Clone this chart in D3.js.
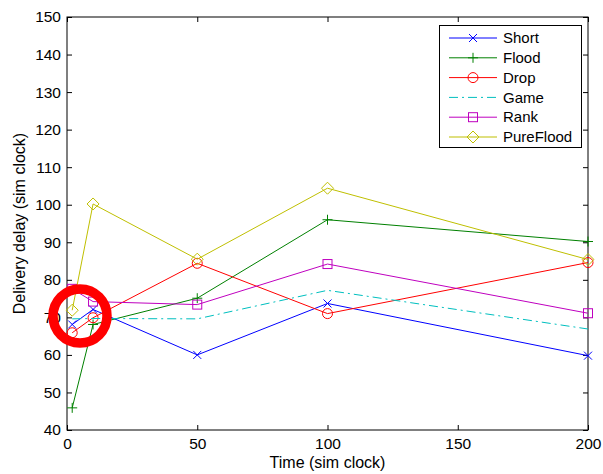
<!DOCTYPE html>
<html>
<head>
<meta charset="utf-8">
<script src="https://cdn.jsdelivr.net/npm/d3@7"></script>
<style>
  body { margin: 0; background: #fff; }
  svg { display: block; font-family: "Liberation Sans", Arial, Helvetica, sans-serif; }
</style>
</head>
<body>
<svg id="chart" width="603" height="474"></svg>
<script>
// Sampling times (sim clock)
const times = [2, 10, 50, 100, 200];

// Delivery delay per routing scheme
const shortDelay     = [68.1, 72.1, 60.0, 73.7, 59.8];
const floodDelay     = [45.9, 68.1, 75.1, 96.0, 90.2];
const dropDelay      = [65.9, 69.9, 84.4, 71.0, 84.6];
const gameDelay      = [69.6, 69.7, 69.6, 77.2, 66.9];
const rankDelay      = [77.6, 74.2, 73.4, 84.2, 71.1];
const pureFloodDelay = [71.9, 100.2, 85.5, 104.4, 85.4];

const seriesNames  = ["Short", "Flood", "Drop", "Game", "Rank", "PureFlood"];
const seriesValues = [shortDelay, floodDelay, dropDelay, gameDelay, rankDelay, pureFloodDelay];
const seriesColors = ["#0000ff", "#008000", "#ff0000", "#00bfbf", "#bf00bf", "#bfbf00"];
const seriesMarkers = ["x", "plus", "circle", "none", "square", "diamond"];

const xTicks = [0, 50, 100, 150, 200];
const yTicks = [40, 50, 60, 70, 80, 90, 100, 110, 120, 130, 140, 150];

const plot = { left: 67, right: 588, top: 17, bottom: 430 };

const svg = d3.select("#chart");
const x = d3.scaleLinear().domain([0, 200]).range([plot.left, plot.right]);
const y = d3.scaleLinear().domain([40, 150]).range([plot.bottom, plot.top]);

// Axes with inward ticks on all four sides
const tickLen = 5;
svg.append("g").attr("transform", `translate(0,${plot.bottom})`)
  .call(d3.axisBottom(x).tickValues(xTicks).tickSizeInner(-tickLen).tickSizeOuter(0).tickPadding(8))
  .call(g => g.select(".domain").remove());
svg.append("g").attr("transform", `translate(0,${plot.top})`)
  .call(d3.axisTop(x).tickValues(xTicks).tickSizeInner(-tickLen).tickSizeOuter(0).tickFormat(""))
  .call(g => g.select(".domain").remove());
svg.append("g").attr("transform", `translate(${plot.left},0)`)
  .call(d3.axisLeft(y).tickValues(yTicks).tickSizeInner(-tickLen).tickSizeOuter(0).tickPadding(6))
  .call(g => g.select(".domain").remove());
svg.append("g").attr("transform", `translate(${plot.right},0)`)
  .call(d3.axisRight(y).tickValues(yTicks).tickSizeInner(-tickLen).tickSizeOuter(0).tickFormat(""))
  .call(g => g.select(".domain").remove());

svg.selectAll(".tick line").attr("stroke", "#000");
svg.selectAll(".tick text").attr("font-size", 15.5).attr("fill", "#000")
  .attr("font-family", "'Liberation Sans', Arial, sans-serif");

// Plot box
svg.append("rect")
  .attr("x", plot.left).attr("y", plot.top)
  .attr("width", plot.right - plot.left).attr("height", plot.bottom - plot.top)
  .attr("fill", "none").attr("stroke", "#000").attr("stroke-width", 1);

// Axis titles
svg.append("text").attr("x", (plot.left + plot.right) / 2).attr("y", 468)
  .attr("text-anchor", "middle").attr("font-size", 16).text("Time (sim clock)");
svg.append("text")
  .attr("transform", `translate(25,${(plot.top + plot.bottom) / 2}) rotate(-90)`)
  .attr("text-anchor", "middle").attr("font-size", 16).text("Delivery delay (sim clock)");

function drawMarker(g, type, cx, cy, color) {
  const s = 4;
  if (type === "x") {
    g.append("path").attr("d", `M${cx - s},${cy - s}L${cx + s},${cy + s}M${cx - s},${cy + s}L${cx + s},${cy - s}`)
      .attr("stroke", color).attr("fill", "none");
  } else if (type === "plus") {
    g.append("path").attr("d", `M${cx - 5},${cy}L${cx + 5},${cy}M${cx},${cy - 5}L${cx},${cy + 5}`)
      .attr("stroke", color).attr("fill", "none");
  } else if (type === "circle") {
    g.append("circle").attr("cx", cx).attr("cy", cy).attr("r", 5)
      .attr("stroke", color).attr("fill", "none");
  } else if (type === "square") {
    g.append("rect").attr("x", cx - 4.5).attr("y", cy - 4.5).attr("width", 9).attr("height", 9)
      .attr("stroke", color).attr("fill", "none");
  } else if (type === "diamond") {
    g.append("path").attr("d", `M${cx},${cy - 6}L${cx + 6},${cy}L${cx},${cy + 6}L${cx - 6},${cy}Z`)
      .attr("stroke", color).attr("fill", "none");
  }
}

const line = d3.line().x(d => x(d[0])).y(d => y(d[1]));

seriesValues.forEach((vals, i) => {
  const pts = times.map((t, j) => [t, vals[j]]);
  const g = svg.append("g");
  g.append("path").datum(pts).attr("d", line)
    .attr("fill", "none").attr("stroke", seriesColors[i]).attr("stroke-width", 1)
    .attr("stroke-dasharray", seriesMarkers[i] === "none" ? "9,4,2,4" : null);
  pts.forEach(p => drawMarker(g, seriesMarkers[i], x(p[0]), y(p[1]), seriesColors[i]));
});

// Legend
const legend = svg.append("g");
legend.append("rect").attr("x", 439.5).attr("y", 25.5).attr("width", 142).attr("height", 122)
  .attr("fill", "#fff").attr("stroke", "#000");
seriesNames.forEach((name, i) => {
  const ly = 38 + i * 19.8;
  legend.append("line").attr("x1", 449).attr("x2", 497).attr("y1", ly).attr("y2", ly)
    .attr("stroke", seriesColors[i])
    .attr("stroke-dasharray", seriesMarkers[i] === "none" ? "9,4,2,4" : null);
  drawMarker(legend, seriesMarkers[i], 473, ly, seriesColors[i]);
  legend.append("text").attr("x", 503).attr("y", ly).attr("dy", "0.35em")
    .attr("font-size", 15).text(name);
});

// Highlight ring around the early samples
svg.append("circle").attr("cx", 80).attr("cy", 316).attr("r", 27)
  .attr("fill", "none").attr("stroke", "#ff0000").attr("stroke-width", 9.5);
</script>
</body>
</html>
